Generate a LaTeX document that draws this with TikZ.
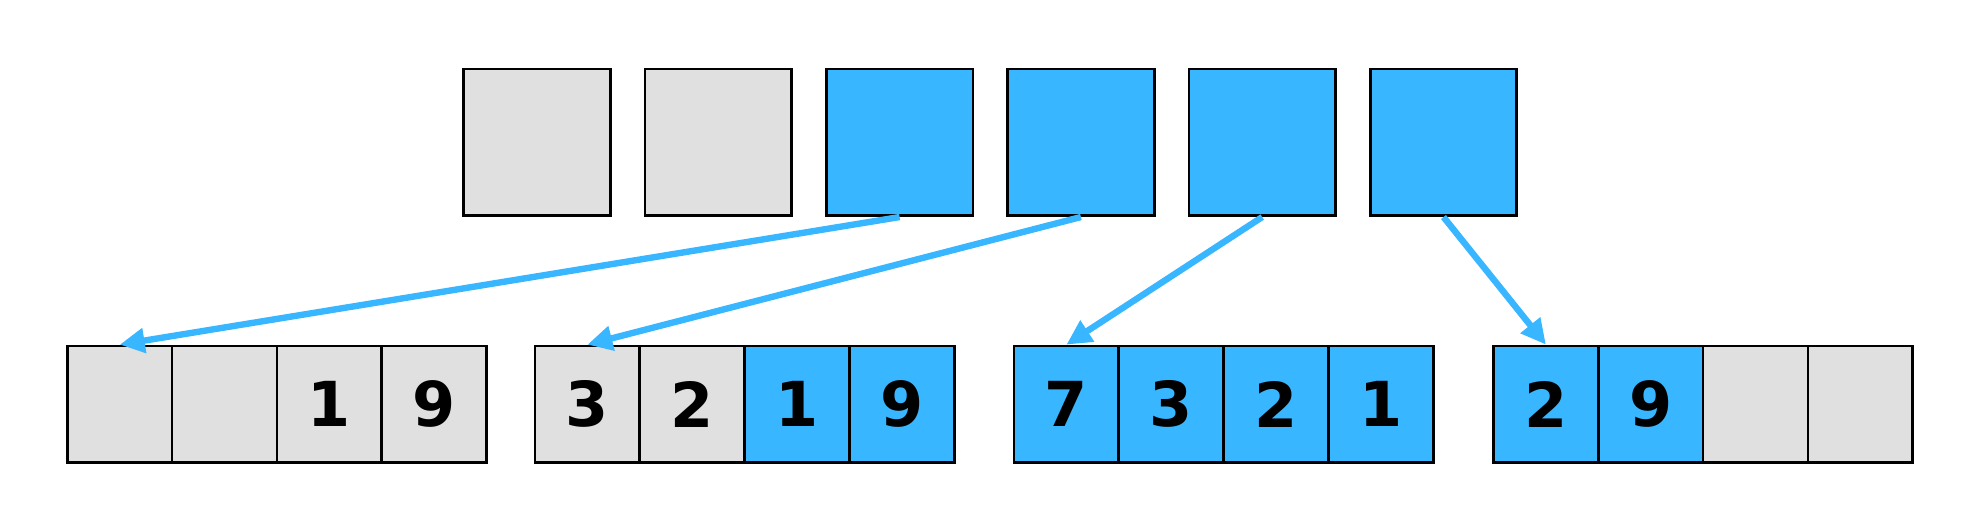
\documentclass[tikz,border=0pt]{standalone}
\usepackage{fontspec}
\setmainfont{DejaVu Sans}
\usetikzlibrary{arrows.meta}
\definecolor{slotblue}{RGB}{56,182,255}
\definecolor{slotgray}{RGB}{224,224,224}
\tikzset{
    slot/.style={draw, line width=1.35pt, inner sep=0pt, minimum width=73.3pt, minimum height=73.3pt},
    cell/.style={draw, line width=1.35pt, inner sep=0pt, minimum width=52.4pt, minimum height=58.3pt, font=\fontsize{31}{31}\selectfont\bfseries},
    ptr/.style={slotblue, line width=3.2pt, -{Triangle[length=12.5pt,width=12pt]}}
}
\begin{document}
\begin{tikzpicture}[x=.5pt,y=.5pt]
        \useasboundingbox (0,0) rectangle (1982,522);
        \foreach \i/\c in {1/slotgray,2/slotgray,3/slotblue,4/slotblue,5/slotblue,6/slotblue}
            \node[slot,fill=\c] (top\i) at ({537+(\i-1)*181.3},379.6) {};
        
        \foreach \g/\gx/\j/\c/\t in {1/67.3/1/slotgray/{},1/67.3/2/slotgray/{},1/67.3/3/slotgray/1,1/67.3/4/slotgray/9,
                                     2/535/1/slotgray/3,2/535/2/slotgray/2,2/535/3/slotblue/1,2/535/4/slotblue/9,
                                     3/1014/1/slotblue/7,3/1014/2/slotblue/3,3/1014/3/slotblue/2,3/1014/4/slotblue/1,
                                     4/1493.5/1/slotblue/2,4/1493.5/2/slotblue/9,4/1493.5/3/slotgray/{},4/1493.5/4/slotgray/{}}
            \node[cell,fill=\c] (g\g c\j) at ({\gx+52.4+(\j-1)*104.8},117.7) {\t};
        
        \draw[ptr] (top3.south) -- (g1c1.north);
        \draw[ptr] (top4.south) -- (g2c1.north);
        \draw[ptr] (top5.south) -- (g3c1.north);
        \draw[ptr] (top6.south) -- (g4c1.north);
\end{tikzpicture}
\end{document}
